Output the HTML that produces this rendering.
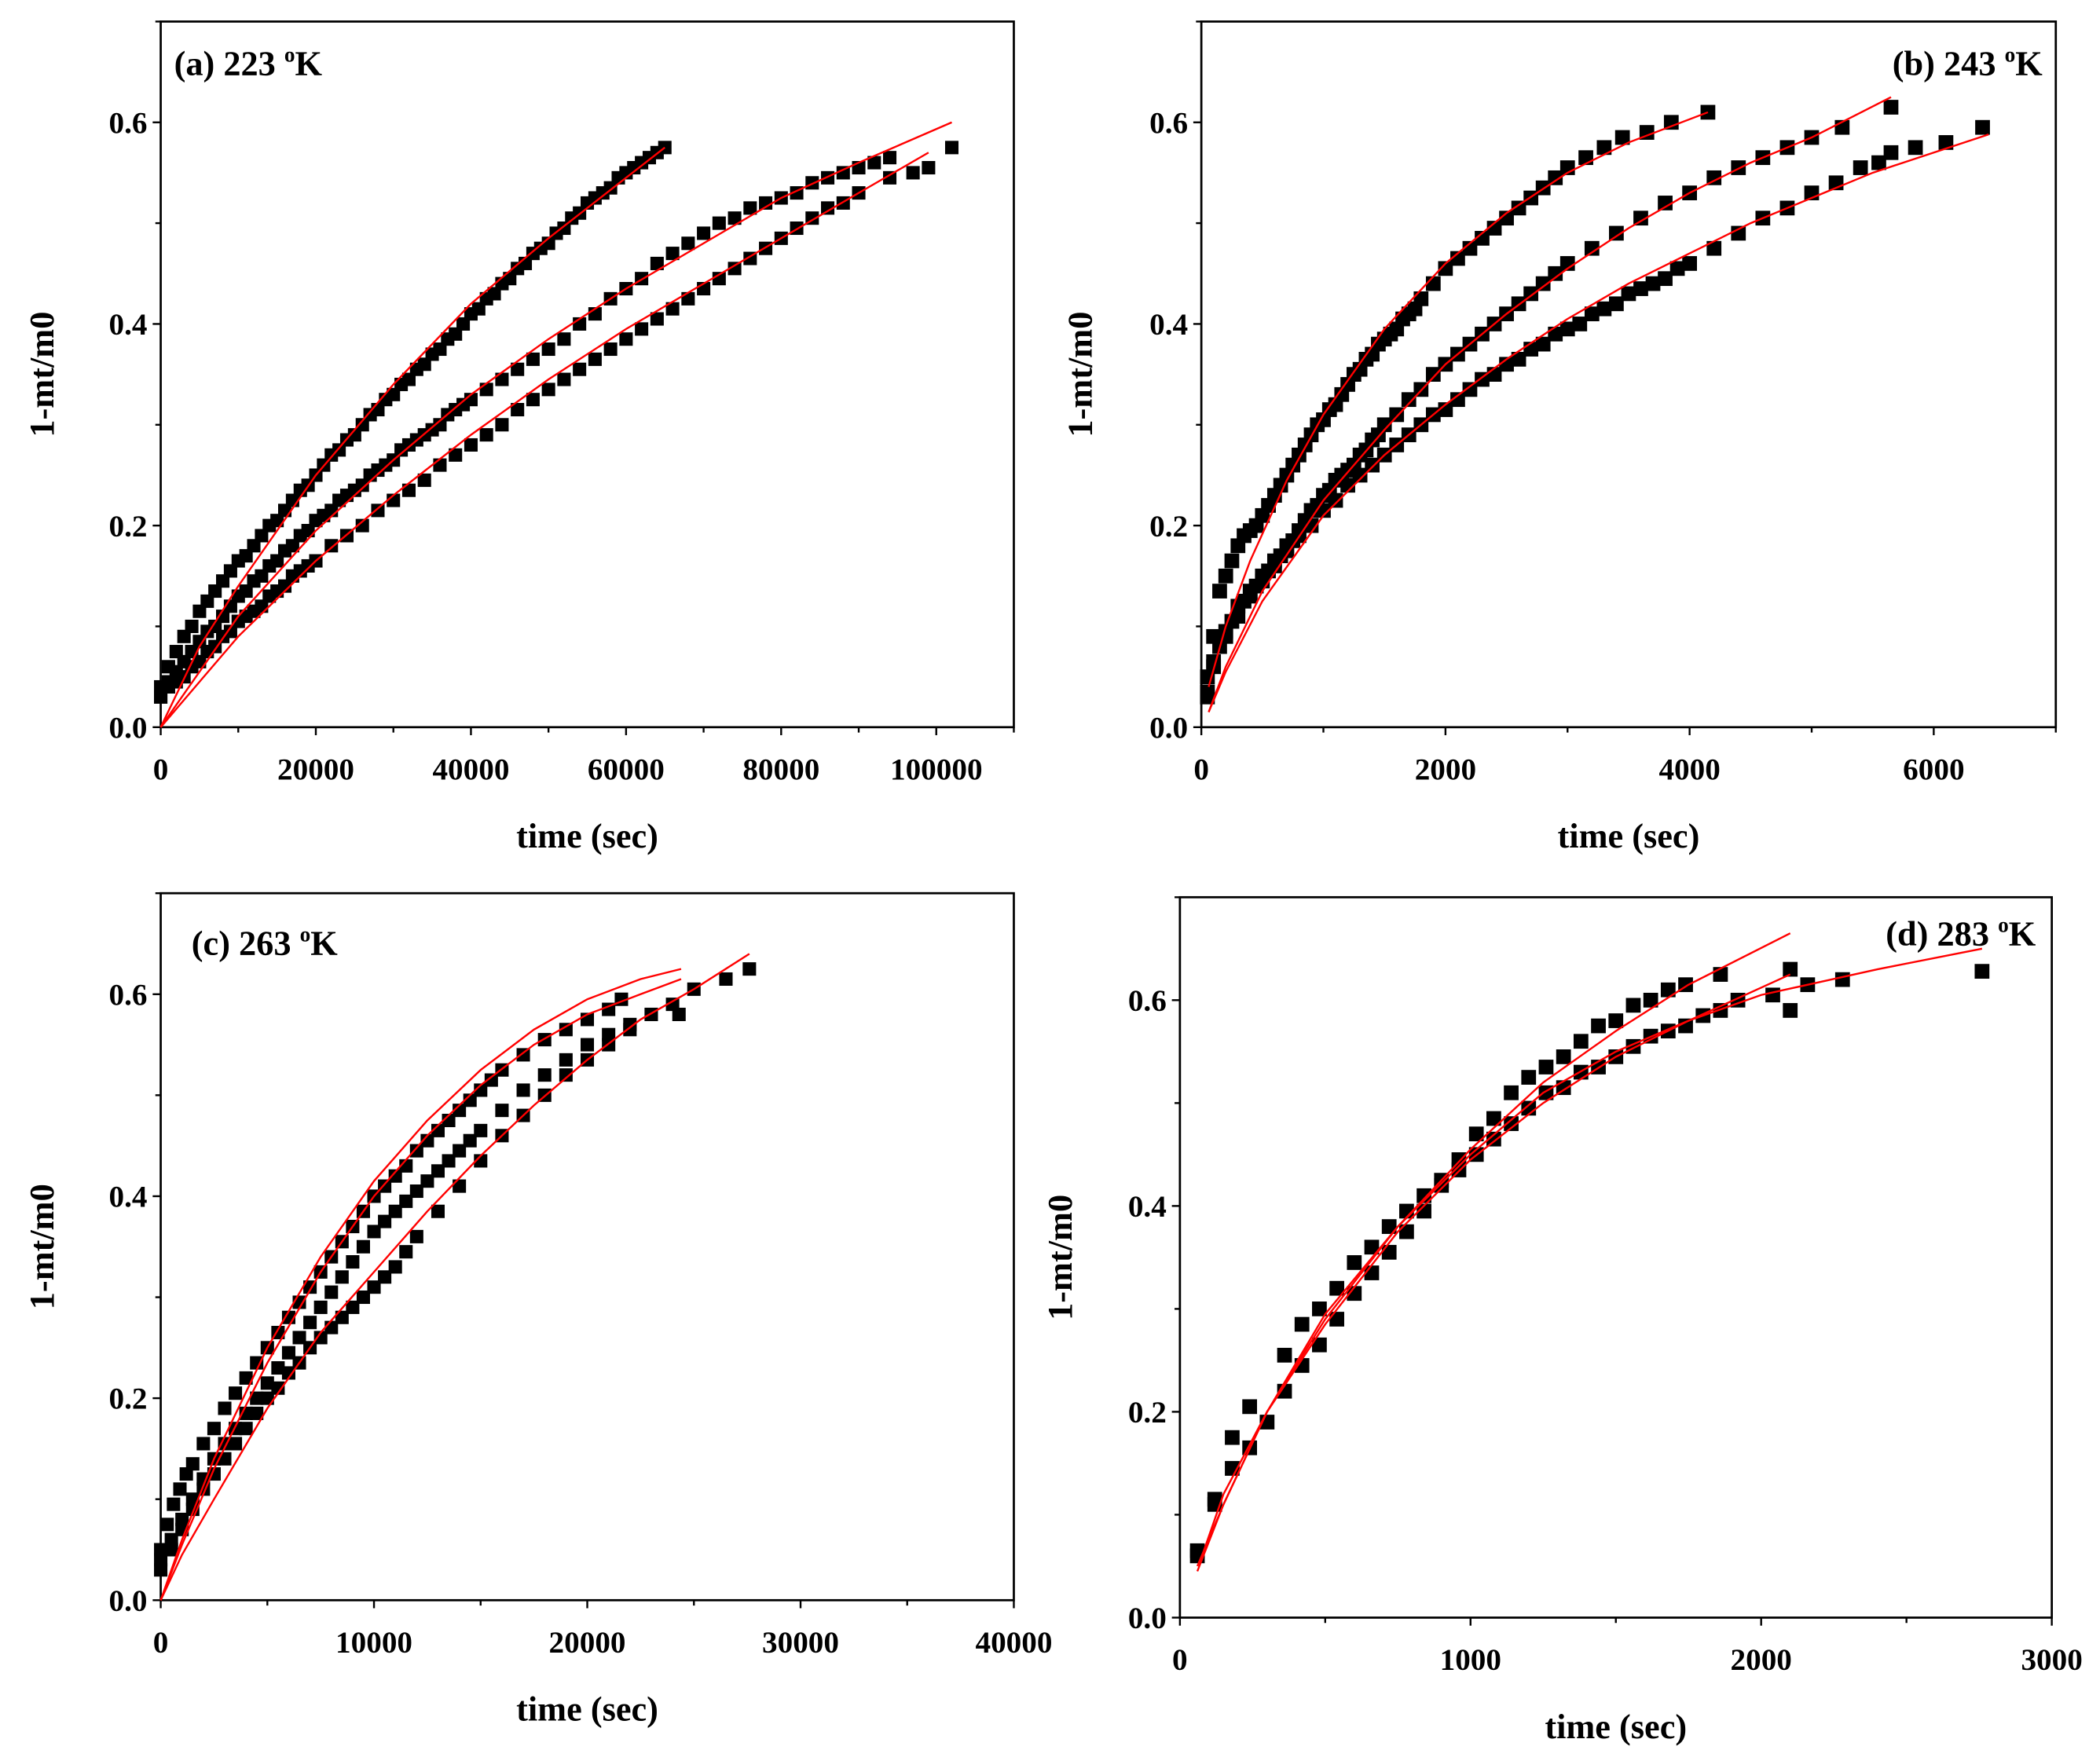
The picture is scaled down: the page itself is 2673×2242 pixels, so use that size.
<!DOCTYPE html>
<html><head><meta charset="utf-8"><style>
html,body{margin:0;padding:0;background:#fff}
svg{display:block}
text{font-family:"Liberation Serif",serif;font-weight:bold;fill:#000}
</style></head><body>
<svg id="fig" width="2673" height="2242" viewBox="0 0 1568 1315" xmlns="http://www.w3.org/2000/svg"></svg>
<script>
// ---------- Panel (a) 223 K ----------
const aT1=[0,1000,2000,3000,4000,5000,6000,7000,8000,9000,10000,11000,12000,13000,14000,15000,16000,17000,18000,19000,20000,21000,22000,23000,24000,25000,26000,27000,28000,29000,30000,31000,32000,33000,34000,35000,36000,37000,38000,39000,40000,41000,42000,43000,44000,45000,46000,47000,48000,49000,50000,51000,52000,53000,54000,55000,56000,57000,58000,59000,60000,61000,62000,63000,64000,65000];
const aY1=[0.04,0.06,0.075,0.09,0.10,0.115,0.125,0.135,0.145,0.155,0.165,0.17,0.18,0.19,0.20,0.205,0.215,0.225,0.235,0.24,0.25,0.26,0.27,0.275,0.285,0.29,0.30,0.31,0.315,0.325,0.33,0.34,0.345,0.355,0.36,0.37,0.375,0.385,0.39,0.40,0.41,0.415,0.425,0.43,0.44,0.445,0.455,0.46,0.47,0.475,0.48,0.49,0.495,0.505,0.51,0.52,0.525,0.53,0.535,0.545,0.55,0.555,0.56,0.565,0.57,0.575];
const aT2=[0,1000,2000,3000,4000,5000,6000,7000,8000,9000,10000,11000,12000,13000,14000,15000,16000,17000,18000,19000,20000,21000,22000,23000,24000,25000,26000,27000,28000,29000,30000,31000,32000,33000,34000,35000,36000,37000,38000,39000,40000,42000,44000,46000,48000,50000,52000,54000,56000,58000,60000,62000,64000,66000,68000,70000,72000,74000,76000,78000,80000,82000,84000,86000,88000,90000,92000,94000];
const aY2=[0.03,0.045,0.055,0.065,0.075,0.085,0.095,0.10,0.11,0.12,0.13,0.135,0.145,0.15,0.16,0.165,0.175,0.18,0.19,0.195,0.205,0.21,0.215,0.225,0.23,0.235,0.24,0.25,0.255,0.26,0.265,0.275,0.28,0.285,0.29,0.295,0.30,0.31,0.315,0.32,0.325,0.335,0.345,0.355,0.365,0.375,0.385,0.40,0.41,0.425,0.435,0.445,0.46,0.47,0.48,0.49,0.50,0.505,0.515,0.52,0.525,0.53,0.54,0.545,0.55,0.555,0.56,0.565];
const aT3=[0,1000,2000,3000,4000,5000,6000,7000,8000,9000,10000,11000,12000,13000,14000,15000,16000,17000,18000,19000,20000,22000,24000,26000,28000,30000,32000,34000,36000,38000,40000,42000,44000,46000,48000,50000,52000,54000,56000,58000,60000,62000,64000,66000,68000,70000,72000,74000,76000,78000,80000,82000,84000,86000,88000,90000,94000,97000,99000,102000];
const aY3=[0.03,0.04,0.045,0.05,0.06,0.065,0.075,0.08,0.09,0.095,0.105,0.11,0.115,0.12,0.13,0.135,0.14,0.15,0.155,0.16,0.165,0.18,0.19,0.20,0.215,0.225,0.235,0.245,0.26,0.27,0.28,0.29,0.30,0.315,0.325,0.335,0.345,0.355,0.365,0.375,0.385,0.395,0.405,0.415,0.425,0.435,0.445,0.455,0.465,0.475,0.485,0.495,0.505,0.515,0.52,0.53,0.545,0.55,0.555,0.575];
const aFitT1=[0,5000,10000,20000,30000,40000,50000,60000,65000];
const aFitY1=[0,0.08,0.14,0.25,0.34,0.42,0.485,0.545,0.575];
const aFitT2=[0,10000,20000,30000,40000,50000,60000,70000,80000,90000,102000];
const aFitY2=[0,0.11,0.195,0.265,0.33,0.385,0.435,0.48,0.525,0.56,0.60];
const aFitT3=[0,10000,20000,30000,40000,50000,60000,70000,80000,90000,99000];
const aFitY3=[0,0.09,0.165,0.23,0.29,0.345,0.395,0.44,0.485,0.53,0.57];

// ---------- Panel (b) 243 K ----------
const bT1=[50,100,150,200,250,300,350,400,450,500,550,600,650,700,750,800,850,900,950,1000,1050,1100,1150,1200,1250,1300,1350,1400,1450,1500,1550,1600,1650,1700,1750,1800,1900,2000,2100,2200,2300,2400,2500,2600,2700,2800,2900,3000,3150,3300,3450,3650,3850,4150];
const bY1=[0.05,0.09,0.135,0.15,0.165,0.18,0.19,0.195,0.2,0.21,0.22,0.23,0.24,0.25,0.26,0.27,0.28,0.29,0.30,0.305,0.315,0.32,0.33,0.34,0.35,0.355,0.365,0.37,0.38,0.385,0.39,0.395,0.405,0.41,0.415,0.425,0.44,0.455,0.465,0.475,0.485,0.495,0.505,0.515,0.525,0.535,0.545,0.555,0.565,0.575,0.585,0.59,0.60,0.61];
const bT2=[50,100,150,200,250,300,350,400,450,500,550,600,650,700,750,800,850,900,950,1000,1050,1100,1150,1200,1250,1300,1350,1400,1450,1500,1600,1700,1800,1900,2000,2100,2200,2300,2400,2500,2600,2700,2800,2900,3000,3200,3400,3600,3800,4000,4200,4400,4600,4800,5000,5250,5650];
const bY2=[0.035,0.065,0.08,0.095,0.105,0.12,0.125,0.135,0.14,0.15,0.155,0.165,0.17,0.18,0.185,0.195,0.205,0.215,0.22,0.23,0.235,0.245,0.25,0.255,0.26,0.27,0.275,0.285,0.29,0.30,0.31,0.325,0.335,0.35,0.36,0.37,0.38,0.39,0.40,0.41,0.42,0.43,0.44,0.45,0.46,0.475,0.49,0.505,0.52,0.53,0.545,0.555,0.565,0.575,0.585,0.595,0.615];
const bT3=[50,100,200,300,400,500,600,700,800,900,1000,1100,1200,1300,1400,1500,1600,1700,1800,1900,2000,2100,2200,2300,2400,2500,2600,2700,2800,2900,3000,3100,3200,3300,3400,3500,3600,3700,3800,3900,4000,4200,4400,4600,4800,5000,5200,5400,5550,5650,5850,6100,6400];
const bY3=[0.03,0.06,0.09,0.11,0.13,0.145,0.16,0.175,0.19,0.20,0.215,0.225,0.24,0.25,0.26,0.27,0.28,0.29,0.30,0.31,0.315,0.325,0.335,0.345,0.35,0.36,0.365,0.375,0.38,0.39,0.395,0.40,0.41,0.415,0.42,0.43,0.435,0.44,0.445,0.455,0.46,0.475,0.49,0.505,0.515,0.53,0.54,0.555,0.56,0.57,0.575,0.58,0.595];
const bFitT1=[60,200,400,700,1000,1500,2000,2500,3000,3500,4150];
const bFitY1=[0.04,0.10,0.165,0.245,0.31,0.395,0.46,0.51,0.55,0.58,0.61];
const bFitT2=[60,200,500,1000,1500,2000,2500,3000,3500,4000,4500,5000,5650];
const bFitY2=[0.015,0.06,0.135,0.225,0.295,0.36,0.41,0.455,0.495,0.53,0.56,0.585,0.625];
const bFitT3=[60,200,500,1000,1500,2000,2500,3000,3500,4000,4500,5000,5500,6000,6450];
const bFitY3=[0.015,0.055,0.125,0.21,0.27,0.32,0.365,0.405,0.44,0.47,0.50,0.525,0.55,0.57,0.588];

// ---------- Panel (c) 263 K ----------
const cT1=[0,300,600,900,1200,1500,2000,2500,3000,3500,4000,4500,5000,5500,6000,6500,7000,7500,8000,8500,9000,9500,10000,10500,11000,11500,12000,12500,13000,13500,14000,14500,15000,15500,16000,17000,18000,19000,20000,21000,21600];
const cY1=[0.05,0.075,0.095,0.11,0.125,0.135,0.155,0.17,0.19,0.205,0.22,0.235,0.25,0.265,0.28,0.295,0.31,0.325,0.34,0.355,0.37,0.385,0.40,0.41,0.42,0.43,0.445,0.455,0.465,0.475,0.485,0.495,0.505,0.515,0.525,0.54,0.555,0.565,0.575,0.585,0.595];
const cT2=[0,500,1000,1500,2000,2500,3000,3500,4000,4500,5000,5500,6000,6500,7000,7500,8000,8500,9000,9500,10000,10500,11000,11500,12000,12500,13000,13500,14000,14500,15000,16000,17000,18000,19000,20000,21000,22000,23000,24300];
const cY2=[0.04,0.06,0.08,0.10,0.12,0.14,0.155,0.17,0.185,0.20,0.215,0.23,0.245,0.26,0.275,0.29,0.305,0.32,0.335,0.35,0.365,0.375,0.385,0.395,0.405,0.415,0.425,0.435,0.445,0.455,0.465,0.485,0.505,0.52,0.535,0.55,0.56,0.57,0.58,0.58];
const cT3=[0,500,1000,1500,2000,2500,3000,3500,4000,4500,5000,5500,6000,6500,7000,7500,8000,8500,9000,9500,10000,10500,11000,11500,12000,13000,14000,15000,16000,17000,18000,19000,20000,21000,22000,23000,24000,25000,26500,27600];
const cY3=[0.03,0.05,0.07,0.09,0.11,0.125,0.14,0.155,0.17,0.185,0.20,0.21,0.225,0.235,0.25,0.26,0.27,0.28,0.29,0.30,0.31,0.32,0.33,0.345,0.36,0.385,0.41,0.435,0.46,0.48,0.50,0.52,0.535,0.55,0.565,0.58,0.59,0.605,0.615,0.625];
const cFitT1=[0,1000,2500,5000,7500,10000,12500,15000,17500,20000,22500,24400];
const cFitY1=[0,0.06,0.14,0.25,0.34,0.415,0.475,0.525,0.565,0.595,0.615,0.625];
const cFitT2=[0,1000,2500,5000,7500,10000,12500,15000,17500,20000,22500,24400];
const cFitY2=[0,0.055,0.13,0.235,0.325,0.40,0.46,0.51,0.55,0.58,0.60,0.615];
const cFitT3=[0,1000,2500,5000,7500,10000,12500,15000,17500,20000,22500,25000,27600];
const cFitY3=[0,0.045,0.10,0.19,0.265,0.325,0.385,0.44,0.49,0.535,0.575,0.605,0.64];

// ---------- Panel (d) 283 K ----------
const dT1=[60,120,180,240,360,420,480,540,600,660,720,780,840,900,960,1020,1080,1140,1200,1260,1320,1380,1440,1500,1560,1620,1680,1740,1860,2100];
const dY1=[0.065,0.115,0.175,0.205,0.255,0.285,0.30,0.32,0.345,0.36,0.38,0.395,0.41,0.425,0.445,0.47,0.485,0.51,0.525,0.535,0.545,0.56,0.575,0.58,0.595,0.60,0.61,0.615,0.625,0.63];
const dT2=[60,120,180,240,300,360,420,480,540,600,660,720,780,840,900,960,1020,1080,1140,1200,1260,1320,1380,1440,1500,1560,1620,1680,1740,1800,1860,1920,2040,2100,2160,2280,2760];
const dY2=[0.06,0.11,0.145,0.165,0.19,0.22,0.245,0.265,0.29,0.315,0.335,0.355,0.375,0.395,0.42,0.435,0.45,0.465,0.48,0.495,0.51,0.515,0.53,0.535,0.545,0.555,0.565,0.57,0.575,0.585,0.59,0.60,0.605,0.59,0.615,0.62,0.628];
const dFitT1=[60,150,300,500,750,1000,1250,1500,1750,2100];
const dFitY1=[0.045,0.11,0.2,0.295,0.38,0.455,0.52,0.57,0.615,0.665];
const dFitT2=[70,150,300,500,750,1000,1250,1500,1750,2100];
const dFitY2=[0.055,0.12,0.2,0.285,0.375,0.445,0.5,0.545,0.58,0.625];
const dFitT3=[60,150,300,500,750,1000,1250,1500,1750,2000,2400,2760];
const dFitY3=[0.05,0.11,0.2,0.29,0.38,0.45,0.51,0.55,0.58,0.605,0.63,0.65];

const NS="http://www.w3.org/2000/svg";
const svg=document.getElementById('fig');
function mk(tag,attrs,parent){const e=document.createElementNS(NS,tag);for(const k in attrs)e.setAttribute(k,attrs[k]);(parent||svg).appendChild(e);return e;}

function panel(cfg){
  const g=mk('g',{});
  
  
  const sx=v=>cfg.x0+(v-cfg.xmin)/(cfg.xmax-cfg.xmin)*(cfg.x1-cfg.x0);
  const sy=v=>cfg.y0-(v/0.7)*(cfg.y0-cfg.y1);
  const fr=mk('rect',{x:cfg.x0,y:cfg.y1,width:cfg.x1-cfg.x0,height:cfg.y0-cfg.y1,fill:'none',stroke:'#000','stroke-width':1.6},g);
  
  
  for(let v=cfg.xmin;v<=cfg.xmax+1e-9;v+=cfg.xstep/2){
    const major=Math.abs((v/cfg.xstep)-Math.round(v/cfg.xstep))<1e-6;
    mk('line',{x1:sx(v),x2:sx(v),y1:cfg.y0,y2:cfg.y0+(major?6:4),stroke:'#000','stroke-width':1.4},g);
    if(major&&v<=cfg.xlabMax){
      const t=mk('text',{x:sx(v),y:cfg.y0+39,'text-anchor':'middle','font-size':23},g);
      t.textContent=String(v);
      
      
    }
  }
  for(let i=0;i<=7;i++){
    const v=i*0.1;const major=i%2===0;
    mk('line',{x1:cfg.x0,x2:cfg.x0-(major?6:4),y1:sy(v),y2:sy(v),stroke:'#000','stroke-width':1.4},g);
    if(major){
      const t=mk('text',{x:cfg.x0-10,y:sy(v)+8,'text-anchor':'end','font-size':23},g);
      t.textContent=v.toFixed(1);
      
      
    }
  }
  const xt=mk('text',{x:(cfg.x0+cfg.x1)/2,y:cfg.y0+cfg.xtOff,'text-anchor':'middle','font-size':26},g);
  xt.textContent='time (sec)';
  
  
  const yt=mk('text',{x:0,y:0,'text-anchor':'middle','font-size':26,transform:`translate(${cfg.ytx},${(cfg.y0+cfg.y1)/2}) rotate(-90)`},g);
  yt.textContent='1-mt/m0';
  
  
  const lab=mk('text',{x:cfg.labX,y:cfg.labY,'text-anchor':cfg.labAnchor,'font-size':26},g);
  lab.innerHTML=cfg.label+' <tspan font-size="16" dy="-10">o</tspan><tspan dy="10">K</tspan>';
  
  
  const ms=cfg.ms;
  cfg.series.forEach((s,si)=>{
    const sg=mk('g',{},g);
    
    
    s[0].forEach((t,i)=>{
      const r=mk('rect',{x:sx(t)-ms/2,y:sy(s[1][i])-ms/2,width:ms,height:ms,fill:'#000'},sg);
      
      
    });
  });
  cfg.fits.forEach((f,fi)=>{
    const d=f[0].map((t,i)=>(i?'L':'M')+sx(t).toFixed(2)+','+sy(f[1][i]).toFixed(2)).join(' ');
    const p=mk('path',{d:d,fill:'none',stroke:'#ff0000','stroke-width':1.4},g);
    
    
  });
}

panel({name:'panel-a-223K',x0:120,x1:757,y0:543,y1:16,xmin:0,xmax:110000,xstep:20000,xlabMax:100000,xtOff:90,ytx:40,
  label:'(a) 223',labX:130,labY:56,labAnchor:'start',ms:10,
  series:[[aT1,aY1],[aT2,aY2],[aT3,aY3]],fits:[[aFitT1,aFitY1],[aFitT2,aFitY2],[aFitT3,aFitY3]]});
panel({name:'panel-b-243K',x0:897,x1:1535,y0:543,y1:16,xmin:0,xmax:7000,xstep:2000,xlabMax:6000,xtOff:90,ytx:815,
  label:'(b) 243',labX:1525,labY:56,labAnchor:'end',ms:11,
  series:[[bT1,bY1],[bT2,bY2],[bT3,bY3]],fits:[[bFitT1,bFitY1],[bFitT2,bFitY2],[bFitT3,bFitY3]]});
panel({name:'panel-c-263K',x0:120,x1:757,y0:1195,y1:667,xmin:0,xmax:40000,xstep:10000,xlabMax:40000,xtOff:90,ytx:40,
  label:'(c) 263',labX:143,labY:713,labAnchor:'start',ms:10,
  series:[[cT1,cY1],[cT2,cY2],[cT3,cY3]],fits:[[cFitT1,cFitY1],[cFitT2,cFitY2],[cFitT3,cFitY3]]});
panel({name:'panel-d-283K',x0:881,x1:1532,y0:1208,y1:670,xmin:0,xmax:3000,xstep:1000,xlabMax:3000,xtOff:90,ytx:800,
  label:'(d) 283',labX:1520,labY:706,labAnchor:'end',ms:11,
  series:[[dT1,dY1],[dT2,dY2]],fits:[[dFitT1,dFitY1],[dFitT2,dFitY2],[dFitT3,dFitY3]]});
</script>
</body></html>
